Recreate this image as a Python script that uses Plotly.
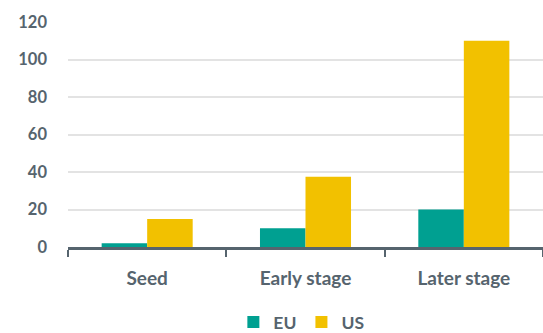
import plotly.graph_objects as go

categories = ["Seed", "Early stage", "Later stage"]
eu_values = [2, 10, 20]
us_values = [15, 37.5, 110]
y_ticks = [0, 20, 40, 60, 80, 100, 120]

TEXT = "#56646e"
FONT = "Lato"

fig = go.Figure()
fig.add_bar(name="EU", x=categories, y=eu_values, marker_color="#00a091",
            marker_line_width=0)
fig.add_bar(name="US", x=categories, y=us_values, marker_color="#f2c100",
            marker_line_width=0)

fig.update_layout(
    width=543, height=333,
    margin=dict(l=68, r=0, t=22, b=86),
    plot_bgcolor="white", paper_bgcolor="white",
    barmode="group", bargap=0.425, bargroupgap=0,
    font=dict(family=FONT, color=TEXT, size=15),
    legend=dict(orientation="h", x=0.555, xanchor="center", xref="container",
                y=0.033, yanchor="middle", yref="container",
                font=dict(family=FONT, size=17.5, color=TEXT, weight="bold"),
                itemwidth=30, traceorder="normal"),
    xaxis=dict(
        showline=True, linecolor=TEXT, linewidth=3, automargin=False,
        ticks="outside", tickson="boundaries", ticklen=7, tickwidth=2,
        tickcolor=TEXT, showgrid=False,
        tickfont=dict(family=FONT, size=19, color=TEXT, weight="bold"),
        ticklabelstandoff=12,
    ),
    yaxis=dict(
        range=[0, 120], tickvals=y_ticks, showgrid=True, automargin=False,
        gridcolor="#e3e3e3", gridwidth=1.5, zeroline=False,
        showline=False, ticks="",
        tickfont=dict(family=FONT, size=16.5, color=TEXT, weight="bold"),
        ticklabelstandoff=20,
    ),
)

fig.write_html("out.html")
